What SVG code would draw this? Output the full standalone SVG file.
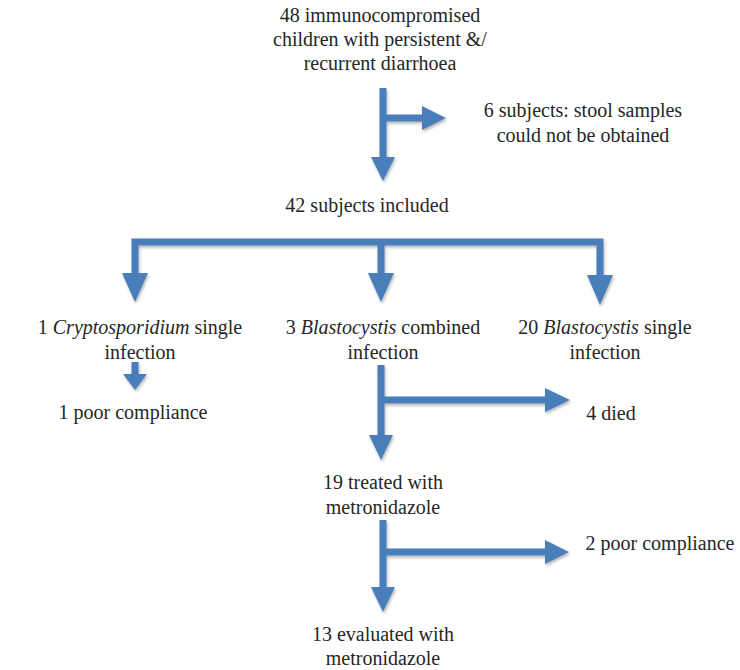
<svg xmlns="http://www.w3.org/2000/svg" width="740" height="670" viewBox="0 0 740 670">
<style>
.t text{font-size:20px;fill:#262626;text-anchor:middle}
.s{stroke:#4a7ebb;stroke-width:7;fill:none;stroke-linecap:butt}
.h{fill:#4a7ebb}
</style>
<defs>
<filter id="sh" x="-10%" y="-10%" width="130%" height="130%">
<feGaussianBlur in="SourceAlpha" stdDeviation="1.5"/>
<feOffset dx="1" dy="2" result="b"/>
<feComponentTransfer><feFuncA type="linear" slope="0.3"/></feComponentTransfer>
<feMerge><feMergeNode/><feMergeNode in="SourceGraphic"/></feMerge>
</filter>
</defs>
<rect width="740" height="670" fill="#fff"/>
<g id="connectors" filter="url(#sh)">
<path class="s" d="M383,88V158M383,118H423"/>
<polygon class="h" points="371,157 395,157 383,181"/>
<polygon class="h" points="422,106 422,130 446,118"/>
<path class="s" d="M135,276V242H600V276M381,242V274"/>
<polygon class="h" points="122,273 148,273 135,302"/>
<polygon class="h" points="368,273 394,273 381,302"/>
<polygon class="h" points="587,275 613,275 600,305"/>
<path class="s" d="M135,362V376"/>
<polygon class="h" points="123,374 147,374 135,390"/>
<path class="s" d="M381,365V436M381,400H547"/>
<polygon class="h" points="369,435 393,435 381,460"/>
<polygon class="h" points="545,388 545,412 570,400"/>
<path class="s" d="M383,520V588M383,552H546"/>
<polygon class="h" points="371,587 395,587 383,612"/>
<polygon class="h" points="545,540 545,564 569,552"/>
</g>
<g class="t" font-family="'Liberation Serif', 'Liberation Sans', sans-serif">
<g id="n1"><text x="380" y="22">48 immunocompromised</text><text x="380" y="46">children with persistent &amp;/</text><text x="380" y="70">recurrent diarrhoea</text></g>
<g id="n2"><text x="583" y="117">6 subjects: stool samples</text><text x="583" y="142">could not be obtained</text></g>
<g id="n3"><text x="367" y="212">42 subjects included</text></g>
<g id="n4"><text x="140" y="334">1 <tspan font-style="italic">Cryptosporidium</tspan> single</text><text x="140" y="359">infection</text></g>
<g id="n5"><text x="383" y="334">3 <tspan font-style="italic">Blastocystis</tspan> combined</text><text x="383" y="359">infection</text></g>
<g id="n6"><text x="605" y="334">20 <tspan font-style="italic">Blastocystis</tspan> single</text><text x="605" y="359">infection</text></g>
<g id="n7"><text x="133" y="419">1 poor compliance</text></g>
<g id="n8"><text x="611" y="420">4 died</text></g>
<g id="n9"><text x="383" y="489">19 treated with</text><text x="383" y="514">metronidazole</text></g>
<g id="n10"><text x="660" y="550">2 poor compliance</text></g>
<g id="n11"><text x="383" y="641">13 evaluated with</text><text x="383" y="665">metronidazole</text></g>
</g>
</svg>
